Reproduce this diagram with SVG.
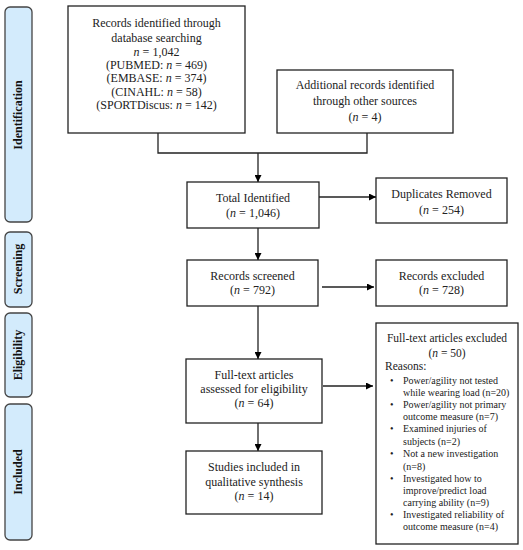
<svg xmlns="http://www.w3.org/2000/svg" width="523" height="550" viewBox="0 0 523 550" font-family="'Liberation Serif', Tinos, 'DejaVu Serif', 'Noto Serif', 'Times New Roman', serif">
<defs>
<marker id="ah" viewBox="0 0 10 10" refX="10" refY="5" markerWidth="7" markerHeight="7" orient="auto" markerUnits="userSpaceOnUse">
<path d="M0,0 L10,5 L0,10 z" fill="#000"/>
</marker>
</defs>
<style>
.box{fill:#fff;stroke:#222;stroke-width:1.3}
.side{fill:#d3ebfc;stroke:#444;stroke-width:1.3}
.t{font-size:12px;fill:#222;text-anchor:middle}
.s{font-size:10px;fill:#222}
.sl{font-size:12px;font-weight:bold;fill:#111;text-anchor:middle}
.c{fill:none;stroke:#222;stroke-width:1.3}
</style>
<rect width="523" height="550" fill="#fff"/>
<g id="side-identification"><rect class="side" x="5" y="7" width="27" height="215" rx="5"/><text class="sl" transform="translate(22,115) rotate(-90)">Identification</text></g>
<g id="side-screening"><rect class="side" x="5" y="232" width="27" height="75" rx="5"/><text class="sl" transform="translate(22,269) rotate(-90)">Screening</text></g>
<g id="side-eligibility"><rect class="side" x="5" y="313" width="27" height="84" rx="5"/><text class="sl" transform="translate(22,355) rotate(-90)">Eligibility</text></g>
<g id="side-included"><rect class="side" x="5" y="404" width="27" height="136" rx="5"/><text class="sl" transform="translate(22,472) rotate(-90)">Included</text></g>

<g id="n-database"><rect class="box" x="68" y="6" width="177" height="127"/>
<text class="t" x="156.5" y="27">Records identified through</text>
<text class="t" x="156.5" y="42">database searching</text>
<text class="t" x="156.5" y="56"><tspan font-style="italic">n</tspan> = 1,042</text>
<text class="t" x="156.5" y="69">(PUBMED: <tspan font-style="italic">n</tspan> = 469)</text>
<text class="t" x="156.5" y="82">(EMBASE: <tspan font-style="italic">n</tspan> = 374)</text>
<text class="t" x="156.5" y="96">(CINAHL: <tspan font-style="italic">n</tspan> = 58)</text>
<text class="t" x="156.5" y="109">(SPORTDiscus: <tspan font-style="italic">n</tspan> = 142)</text>
</g>
<g id="n-other"><rect class="box" x="277" y="70" width="176" height="63"/>
<text class="t" x="365" y="89">Additional records identified</text>
<text class="t" x="365" y="105">through other sources</text>
<text class="t" x="365" y="121">(<tspan font-style="italic">n</tspan> = 4)</text>
</g>
<g id="n-total"><rect class="box" x="187" y="182" width="132" height="46"/>
<text class="t" x="253" y="202">Total Identified</text>
<text class="t" x="253" y="217">(<tspan font-style="italic">n</tspan> = 1,046)</text>
</g>
<g id="n-duplicates"><rect class="box" x="376" y="178" width="131" height="45"/>
<text class="t" x="441.5" y="198">Duplicates Removed</text>
<text class="t" x="441.5" y="214">(<tspan font-style="italic">n</tspan> = 254)</text>
</g>
<g id="n-screened"><rect class="box" x="187" y="260" width="131" height="46"/>
<text class="t" x="252.5" y="280">Records screened</text>
<text class="t" x="252.5" y="294">(<tspan font-style="italic">n</tspan> = 792)</text>
</g>
<g id="n-excluded"><rect class="box" x="376" y="260" width="131" height="46"/>
<text class="t" x="441.5" y="280">Records excluded</text>
<text class="t" x="441.5" y="294">(<tspan font-style="italic">n</tspan> = 728)</text>
</g>
<g id="n-fulltext"><rect class="box" x="186" y="359" width="136" height="64"/>
<text class="t" x="254" y="379">Full-text articles</text>
<text class="t" x="254" y="393">assessed for eligibility</text>
<text class="t" x="254" y="407">(<tspan font-style="italic">n</tspan> = 64)</text>
</g>
<g id="n-included"><rect class="box" x="186" y="451" width="136" height="63"/>
<text class="t" x="254" y="471">Studies included in</text>
<text class="t" x="254" y="486">qualitative synthesis</text>
<text class="t" x="254" y="500">(<tspan font-style="italic">n</tspan> = 14)</text>
</g>
<g id="n-ftexcluded"><rect class="box" x="376" y="323" width="142" height="221"/>
<text class="t" x="447" y="342" style="font-size:11.5px">Full-text articles excluded</text>
<text class="t" x="447" y="357" style="font-size:11.5px">(<tspan font-style="italic">n</tspan> = 50)</text>
<text class="s" x="385" y="370" style="font-size:11.5px">Reasons:</text>
<g class="s">
<text x="390" y="384">•</text><text x="403" y="384">Power/agility not tested</text>
<text x="403" y="396">while wearing load (n=20)</text>
<text x="390" y="408">•</text><text x="403" y="408">Power/agility not primary</text>
<text x="403" y="420">outcome measure (n=7)</text>
<text x="390" y="432">•</text><text x="403" y="432">Examined injuries of</text>
<text x="403" y="445">subjects (n=2)</text>
<text x="390" y="457">•</text><text x="403" y="457">Not a new investigation</text>
<text x="403" y="470">(n=8)</text>
<text x="390" y="482">•</text><text x="403" y="482">Investigated how to</text>
<text x="403" y="494">improve/predict load</text>
<text x="403" y="506">carrying ability (n=9)</text>
<text x="390" y="518">•</text><text x="403" y="518">Investigated reliability of</text>
<text x="403" y="530">outcome measure (n=4)</text>
</g>
</g>

<g id="connectors">
<path class="c" d="M158,133 V153 H367 V133"/>
<path class="c" d="M258,153 V182" marker-end="url(#ah)"/>
<path class="c" d="M258,228 V260" marker-end="url(#ah)"/>
<path class="c" d="M258,306 V359" marker-end="url(#ah)"/>
<path class="c" d="M258,423 V451" marker-end="url(#ah)"/>
<path class="c" d="M319,197 H376" marker-end="url(#ah)"/>
<path class="c" d="M322,287 H374" marker-end="url(#ah)"/>
<path class="c" d="M323,386 H373" marker-end="url(#ah)"/>
</g>
</svg>
